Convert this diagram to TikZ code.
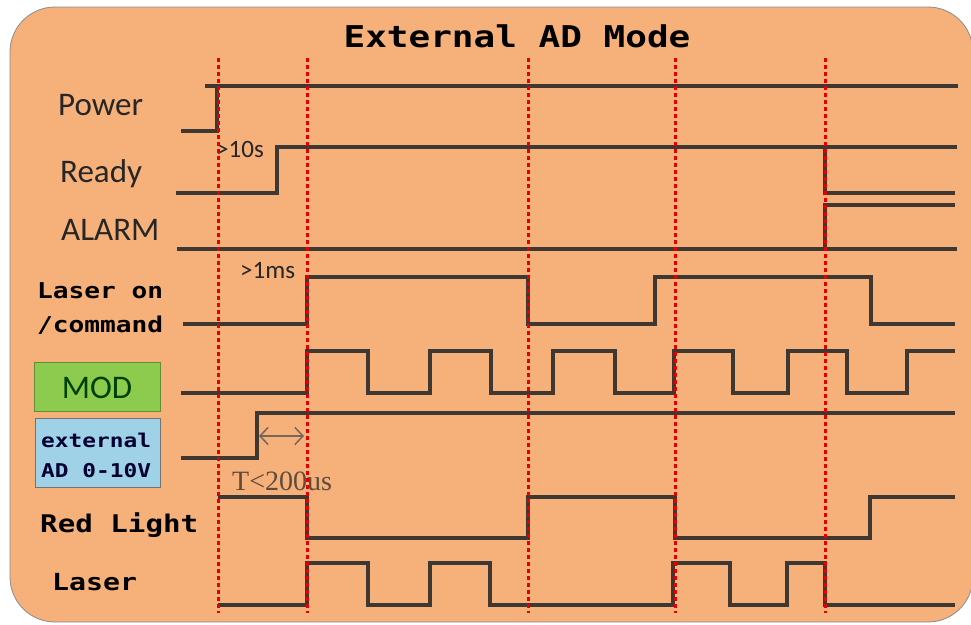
\documentclass[tikz,border=0pt]{standalone}
\usepackage{fontspec}
\setmainfont{Carlito}
\newfontfamily\mb{DejaVu Sans Mono Bold}[FakeStretch=1.2]
\newfontfamily\ser{Liberation Serif}
\usetikzlibrary{arrows.meta}
\definecolor{bg}{HTML}{F6B07A}
\definecolor{sig}{HTML}{3F3732}
\definecolor{modg}{HTML}{8CCB4E}
\definecolor{adb}{HTML}{9FD2E6}
\definecolor{tcol}{HTML}{5E4B3C}
\tikzset{
  wave/.style={draw=sig, line width=3.2pt, line join=miter},
  marker/.style={draw=red!90!black, line width=3pt, dash pattern=on 4pt off 3pt},
  sanslab/.style={anchor=base west, inner sep=0pt, font=\fontsize{33}{33}\selectfont, text=black!85},
  monolab/.style={anchor=base west, inner sep=0pt, text=black},
  note/.style={anchor=base west, inner sep=0pt, font=\fontsize{25}{25}\selectfont, text=black!85}
}
\begin{document}
\begin{tikzpicture}[x=1pt,y=-1pt]
\useasboundingbox (0,0) rectangle (971,624);
\fill[white] (0,0) rectangle (971,624);
\draw[fill=bg, draw=black!45, line width=0.8pt, rounded corners=45pt] (10,7) rectangle (973,622);

% title
\node[inner sep=0pt, anchor=base, font=\mb\fontsize{30}{30}\selectfont] (title) at (517,47) {External AD Mode};

% labels
\node[sanslab] (lpower) at (58,115) {Power};
\node[sanslab] (lready) at (60,182) {Ready};
\node[sanslab] (lalarm) at (61,240) {ALARM};
\node[monolab, font=\mb\fontsize{21.8}{21.8}\selectfont] (llaser1) at (37,298) {Laser on};
\node[monolab, font=\mb\fontsize{21.8}{21.8}\selectfont] (llaser2) at (37,332) {/command};
\node[draw=modg!70!black, fill=modg, line width=1pt, minimum width=126pt, minimum height=49pt, inner sep=0pt] (modbox) at (97,386.5) {};
\node[anchor=base, inner sep=0pt, font=\fontsize{33}{33}\selectfont, text=black!75!green] (lmod) at (97,398) {MOD};
\node[draw=black!55, fill=adb, line width=1pt, minimum width=125pt, minimum height=69pt, inner sep=0pt] (adbox) at (97.5,452.5) {};
\node[monolab, font=\mb\fontsize{19}{19}\selectfont, text=black!80!blue] (lext1) at (41,447) {external};
\node[monolab, font=\mb\fontsize{19}{19}\selectfont, text=black!80!blue] (lext2) at (41,477) {AD 0-10V};
\node[monolab, font=\mb\fontsize{24.3}{24.3}\selectfont] (lred) at (40,532) {Red Light};
\node[monolab, font=\mb\fontsize{23.5}{23.5}\selectfont] (llaser) at (52,590) {Laser};

% notes
\node[note] (n10s) at (216,157) {>10s};
\node[note] (n1ms) at (240,278) {>1ms};
\node[anchor=base west, inner sep=0pt, font=\ser\fontsize{28}{28}\selectfont, text=tcol] (nT) at (232,490) {T<200us};

% waveforms
% Power
\draw[wave] (181,131) -- (217,131) -- (217,86);
\draw[wave] (205,86) -- (958,86);
% Ready
\draw[wave] (176,193) -- (277,193) -- (277,147) -- (957,147);
\draw[wave] (825,147) -- (825,193) -- (955,193);
% ALARM
\draw[wave] (177,249) -- (957,249);
\draw[wave] (825,249) -- (825,205) -- (955,205);
% Laser on / command
\draw[wave] (183,324) -- (307,324) -- (307,277) -- (528,277) -- (528,324) -- (655,324) -- (655,277) -- (871,277) -- (871,324) -- (955,324);
% MOD
\draw[wave] (181,393) -- (307,393) -- (307,351) -- (368,351) -- (368,393) -- (430,393) -- (430,351) -- (491,351) -- (491,393) -- (553,393) -- (553,351) -- (615,351) -- (615,393) -- (674,393) -- (674,351) -- (733,351) -- (733,393) -- (788,393) -- (788,351) -- (847,351) -- (847,393) -- (907,393) -- (907,351) -- (955,351);
% external AD
\draw[wave] (181,458) -- (257,458) -- (257,413) -- (955,413);
% Red light
\draw[wave] (218,497) -- (307,497) -- (307,538) -- (528,538) -- (528,497) -- (675,497) -- (675,538) -- (870,538) -- (870,497) -- (955,497);
% Laser
\draw[wave] (218,605) -- (307,605) -- (307,563) -- (368,563) -- (368,605) -- (430,605) -- (430,563) -- (490,563) -- (490,605) -- (673,605) -- (673,563) -- (730,563) -- (730,605) -- (787,605) -- (787,563) -- (825,563) -- (825,605) -- (955,605);

% T arrow
\coordinate (ta) at (259,436);
\coordinate (tb) at (304,436);
\draw[draw=tcol!85, line width=1.5pt, {Straight Barb[length=8pt,width=17pt]}-{Straight Barb[length=8pt,width=17pt]}] (ta) -- (tb);

% red markers
\foreach \xx in {218,307,528,675,825} {
  \draw[marker] (\xx,58) -- (\xx,613);
}
\end{tikzpicture}
\end{document}
